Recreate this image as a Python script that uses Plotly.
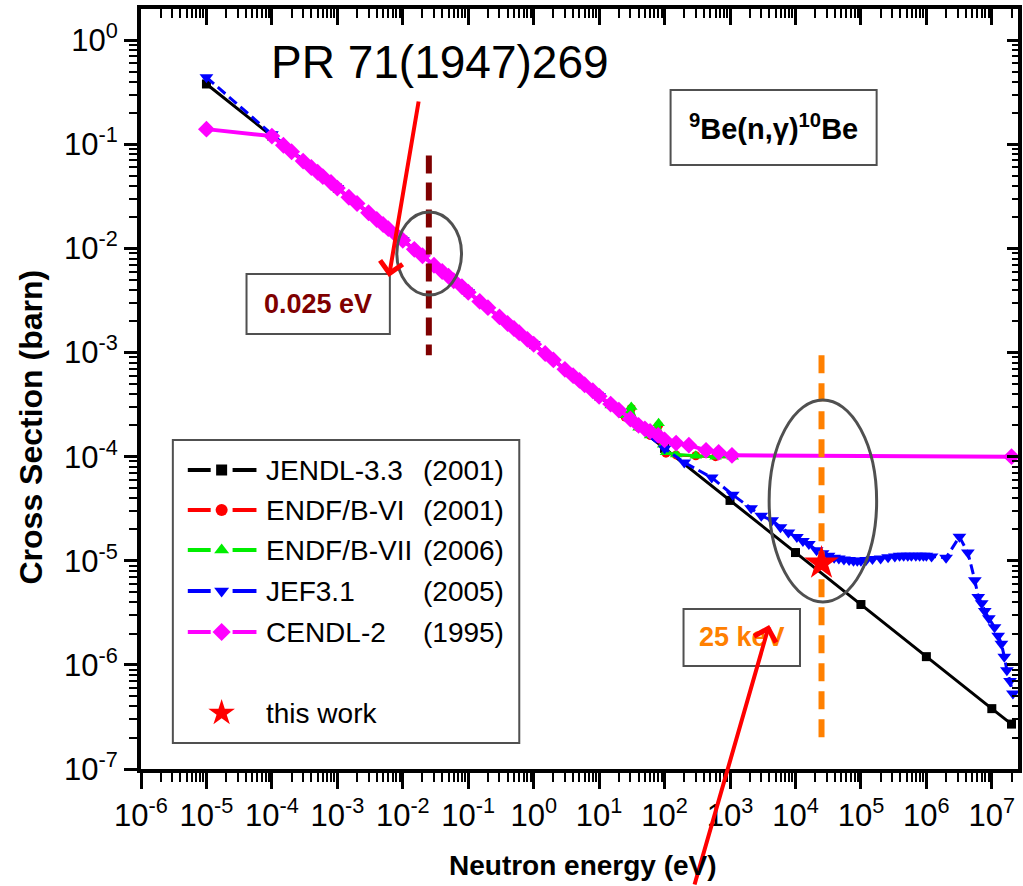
import plotly.graph_objects as go

# ---------------- data ----------------
jendl_E = [1e-5, 1e-4, 1e-3, 1e-2, 1e-1, 1, 10, 100, 1e3, 1e4, 1e5, 1e6, 1e7, 2e7]
jendl_xs = [0.38, 0.12, 0.038, 0.012, 3.8e-3, 1.2e-3, 3.8e-4, 1.2e-4, 3.8e-5, 1.2e-5,
            3.8e-6, 1.2e-6, 3.8e-7, 2.7e-7]

endf6_E = [1e-4, 1e-3, 1e-2, 0.1, 1, 5, 9, 15, 25, 31, 40, 60, 81, 95, 105, 150, 300, 600, 1100]
endf6_xs = [0.12, 0.038, 0.012, 3.8e-3, 1.2e-3, 5.4e-4, 4.0e-4, 3.1e-4, 2.4e-4, 2.9e-4,
            1.9e-4, 1.6e-4, 2.0e-4, 1.3e-4, 1.08e-4, 1.04e-4, 1.02e-4, 1.0e-4, 1.0e-4]

endf7_E = [1e-4, 1e-3, 1e-2, 0.1, 1, 5, 9, 15, 25, 31, 40, 60, 81, 95, 105, 150, 300, 600, 1100]
endf7_xs = [0.12, 0.038, 0.012, 3.8e-3, 1.2e-3, 5.4e-4, 4.1e-4, 3.1e-4, 2.5e-4, 3.0e-4,
            1.9e-4, 1.6e-4, 2.1e-4, 1.3e-4, 1.1e-4, 1.05e-4, 1.02e-4, 1.0e-4, 1.0e-4]

jef_E = [1e-5, 1e-4, 1e-3, 1e-2, 0.1, 1, 10, 100, 200, 525,
         1100, 2100, 3000, 4400, 5900, 7800, 1.05e4, 1.3e4, 1.6e4, 2.1e4,
         2.6e4, 3.2e4, 3.9e4, 4.6e4, 5.5e4, 6.6e4, 7.7e4, 8.8e4, 1.0e5, 1.2e5,
         1.5e5, 2.0e5, 2.6e5, 3.3e5, 3.9e5, 4.5e5, 5.2e5, 5.9e5, 6.9e5, 7.9e5,
         9.0e5, 1.0e6, 1.2e6, 2.0e6, 3.2e6, 4.3e6, 5.5e6, 6.2e6, 7.0e6, 7.8e6,
         9.0e6, 1.1e7, 1.25e7, 1.4e7, 1.55e7, 1.7e7, 1.9e7, 2.1e7]
jef_xs = [0.44, 0.125, 0.038, 0.012, 3.8e-3, 1.2e-3, 3.8e-4, 1.2e-4, 8.8e-5, 6.3e-5,
          4.3e-5, 3.2e-5, 2.7e-5, 2.45e-5, 2.1e-5, 1.87e-5, 1.69e-5, 1.55e-5, 1.45e-5, 1.26e-5,
          1.18e-5, 1.12e-5, 1.07e-5, 1.05e-5, 1.03e-5, 1.02e-5, 1.0e-5, 1.0e-5, 1.0e-5, 1.02e-5,
          1.04e-5, 1.05e-5, 1.08e-5, 1.1e-5, 1.12e-5, 1.12e-5, 1.12e-5, 1.12e-5, 1.12e-5, 1.12e-5,
          1.12e-5, 1.12e-5, 1.1e-5, 1.07e-5, 1.7e-5, 1.2e-5, 6.5e-6, 4.5e-6, 3.9e-6, 3.3e-6,
          2.8e-6, 2.3e-6, 1.9e-6, 1.6e-6, 1.2e-6, 8.9e-7, 7.0e-7, 5.3e-7]

cendl_E = [1e-5,
           1e-4, 1.5e-4, 2e-4, 3e-4, 4e-4, 5e-4, 6e-4, 8e-4,
           1e-3, 1.5e-3, 2e-3, 3e-3, 4e-3, 5e-3, 6e-3, 8e-3,
           1e-2, 1.5e-2, 2e-2, 3e-2, 4e-2, 5e-2, 6e-2, 8e-2,
           0.1, 0.15, 0.2, 0.3, 0.4, 0.5, 0.6, 0.8,
           1, 1.5, 2, 3, 4, 5, 6, 8,
           10, 15, 20, 30, 40, 50, 60, 80,
           100, 150, 235, 430, 670, 1070, 2e7]
cendl_xs = [0.14,
            0.120, 0.098, 0.085, 0.069, 0.060, 0.054, 0.049, 0.043,
            0.038, 0.031, 0.027, 0.022, 0.019, 0.017, 0.0155, 0.0134,
            0.012, 0.0098, 0.0085, 0.0069, 0.0060, 0.0054, 0.0049, 0.0043,
            0.0038, 0.0031, 0.0027, 0.0022, 0.0019, 0.0017, 0.00155, 0.00134,
            1.2e-3, 9.8e-4, 8.5e-4, 6.9e-4, 6.0e-4, 5.4e-4, 4.9e-4, 4.3e-4,
            3.8e-4, 3.2e-4, 2.8e-4, 2.3e-4, 2.0e-4, 1.85e-4, 1.75e-4, 1.6e-4,
            1.45e-4, 1.35e-4, 1.29e-4, 1.15e-4, 1.1e-4, 1.03e-4, 1.0e-4]

star_E = [2.5e4]
star_xs = [9.5e-6]

thermal_E = 0.025
thermal_span = [0.078, 9.4e-4]
kev_E = 2.5e4
kev_span = [9.4e-4, 1.8e-7]

legend_names = ["JENDL-3.3", "ENDF/B-VI", "ENDF/B-VII", "JEF3.1", "CENDL-2"]
legend_years = ["(2001)", "(2001)", "(2006)", "(2005)", "(1995)"]

x_tick_exp = list(range(-6, 8))
y_tick_exp = list(range(-7, 1))

# ---------------- styling ----------------
FONT = "Arial, 'Liberation Sans', sans-serif"
BLACK, RED, GREEN, BLUE, MAG = "#000000", "#ff0000", "#00ee00", "#0000ff", "#ff00ff"
ORANGE, DARKRED, GRAY = "#ff8000", "#7f0000", "#505050"

PL, PR, PT, PB = 141, 1022, 9, 769   # plot-area pixel box

fig = go.Figure()

def series(x, y, color, symbol, size, width, dash="solid"):
    fig.add_trace(go.Scatter(x=x, y=y, mode="lines+markers",
                             line=dict(color=color, width=width, dash=dash),
                             marker=dict(symbol=symbol, size=size, color=color, line=dict(width=0)),
                             showlegend=False, hoverinfo="skip"))

series(jendl_E, jendl_xs, BLACK, "square", 9, 3)
series(endf6_E, endf6_xs, RED, "circle", 9, 3)
series(endf7_E, endf7_xs, GREEN, "triangle-up", 11, 3)
series(jef_E, jef_xs, BLUE, "triangle-down", 12, 3, dash="10px,5px")
series(cendl_E, cendl_xs, MAG, "diamond", 13, 4)

# vertical dashed markers at 0.025 eV and 25 keV
fig.add_trace(go.Scatter(x=[thermal_E, thermal_E], y=thermal_span, mode="lines",
                         line=dict(color=DARKRED, width=6, dash="18px,9px"),
                         showlegend=False, hoverinfo="skip"))
fig.add_trace(go.Scatter(x=[kev_E, kev_E], y=kev_span, mode="lines",
                         line=dict(color=ORANGE, width=6, dash="18px,10px"),
                         showlegend=False, hoverinfo="skip"))
# this work
fig.add_trace(go.Scatter(x=star_E, y=star_xs, mode="markers",
                         marker=dict(symbol="star", size=26, color=RED, line=dict(width=0)),
                         showlegend=False, hoverinfo="skip"))

# invisible trace for the mirrored tick axes
fig.add_trace(go.Scatter(x=[1e-6], y=[1e-7], xaxis="x2", yaxis="y2", mode="markers",
                         marker=dict(opacity=0), showlegend=False, hoverinfo="skip"))

# ---------------- custom legend (pixel overlay axes x3/y3) ----------------
row_y = [470, 510, 550, 591, 632]
leg_cols = [BLACK, RED, GREEN, BLUE, MAG]
leg_sym = ["square", "circle", "triangle-up", "triangle-down", "diamond"]
leg_size = [11, 12, 13, 13, 14]
for yy, c, s, sz in zip(row_y, leg_cols, leg_sym, leg_size):
    fig.add_trace(go.Scatter(x=[188, 211, None, 233, 257], y=[yy, yy, None, yy, yy],
                             xaxis="x3", yaxis="y3", mode="lines",
                             line=dict(color=c, width=4), showlegend=False, hoverinfo="skip"))
    fig.add_trace(go.Scatter(x=[222], y=[yy], xaxis="x3", yaxis="y3", mode="markers",
                             marker=dict(symbol=s, size=sz, color=c, line=dict(width=0)),
                             showlegend=False, hoverinfo="skip"))
fig.add_trace(go.Scatter(x=[222], y=[713], xaxis="x3", yaxis="y3", mode="markers",
                         marker=dict(symbol="star", size=20, color=RED, line=dict(width=0)),
                         showlegend=False, hoverinfo="skip"))

ann = []
for yy, n, yr in zip(row_y, legend_names, legend_years):
    ann.append(dict(x=265, y=yy, xref="x3", yref="y3", text=n, showarrow=False,
                    xanchor="left", yanchor="middle", font=dict(size=28, color="black", family=FONT)))
    ann.append(dict(x=508, y=yy, xref="x3", yref="y3", text=yr, showarrow=False,
                    xanchor="right", yanchor="middle", font=dict(size=28, color="black", family=FONT)))
ann.append(dict(x=265, y=713, xref="x3", yref="y3", text="this work", showarrow=False,
                xanchor="left", yanchor="middle", font=dict(size=28, color="black", family=FONT)))

# text boxes
ann.append(dict(x=319, y=304, xref="x3", yref="y3", text="<b>0.025 eV</b>", showarrow=False,
                xanchor="center", yanchor="middle",
                font=dict(size=27, color=DARKRED, family=FONT)))
ann.append(dict(x=745, y=637, xref="x3", yref="y3", text="<b>25 keV</b>", showarrow=False,
                xanchor="center", yanchor="middle",
                font=dict(size=27, color=ORANGE, family=FONT)))
ann.append(dict(x=776, y=127, xref="x3", yref="y3",
                text="<b><sup>9</sup>Be(n,γ)<sup>10</sup>Be</b>", showarrow=False,
                xanchor="center", yanchor="middle",
                font=dict(size=29, color="black", family=FONT)))
ann.append(dict(x=441, y=62, xref="x3", yref="y3", text="PR 71(1947)269", showarrow=False,
                xanchor="center", yanchor="middle",
                font=dict(size=46, color="black", family=FONT)))

# red arrows
ann.append(dict(x=390, y=277, xref="x3", yref="y3", text="", showarrow=True,
                ax=30, ay=-177, axref="pixel", ayref="pixel",
                arrowhead=4, arrowsize=1.1, arrowwidth=4, arrowcolor=RED))
ann.append(dict(x=772, y=625, xref="x3", yref="y3", text="", showarrow=True,
                ax=-75, ay=270, axref="pixel", ayref="pixel",
                arrowhead=4, arrowsize=1.1, arrowwidth=4, arrowcolor=RED))

# axis titles
W, H = PR - PL, PB - PT
ann.append(dict(x=(585 - PL) / W, y=(PB - 865) / H, xref="paper", yref="paper",
                xanchor="center", yanchor="middle",
                text="<b>Neutron energy (eV)</b>", showarrow=False,
                font=dict(size=28, color="black", family=FONT)))
ann.append(dict(x=(30 - PL) / W, y=(PB - 427) / H, xref="paper", yref="paper",
                xanchor="center", yanchor="middle",
                text="<b>Cross Section (barn)</b>", showarrow=False, textangle=-90,
                font=dict(size=32, color="black", family=FONT)))

shapes = [
    dict(type="rect", xref="x3", yref="y3", x0=173, y0=440, x1=521, y1=743,
         line=dict(color=GRAY, width=2), fillcolor="rgba(0,0,0,0)", layer="above"),
    dict(type="rect", xref="x3", yref="y3", x0=247, y0=274, x1=391, y1=334,
         line=dict(color=GRAY, width=2), fillcolor="rgba(0,0,0,0)", layer="above"),
    dict(type="rect", xref="x3", yref="y3", x0=686, y0=609, x1=803, y1=666,
         line=dict(color=GRAY, width=2), fillcolor="rgba(0,0,0,0)", layer="above"),
    dict(type="rect", xref="x3", yref="y3", x0=673, y0=90, x1=880, y1=165,
         line=dict(color=GRAY, width=2), fillcolor="rgba(0,0,0,0)", layer="above"),
    dict(type="circle", xref="x3", yref="y3", x0=398, y0=212, x1=463, y1=295,
         line=dict(color=GRAY, width=3), layer="above"),
    dict(type="circle", xref="x3", yref="y3", x0=772, y0=400, x1=880, y1=602,
         line=dict(color=GRAY, width=3), layer="above"),
]

xmaj = [10.0 ** k for k in x_tick_exp]
xtxt = ["10<sup>%d</sup>" % k for k in x_tick_exp]
xmin = [m * 10.0 ** k for k in x_tick_exp for m in range(2, 10)]
ymaj = [10.0 ** k for k in y_tick_exp]
ytxt = ["10<sup>%d</sup>" % k for k in y_tick_exp]
ymin = [m * 10.0 ** k for k in y_tick_exp for m in range(2, 10)]

XR = [-6, 7.40]
YR = [-7, 0.30]
tickfont = dict(size=31, color="black", family=FONT)

fig.update_layout(
    width=1023, height=886,
    margin=dict(l=PL, r=1023 - PR, t=PT, b=886 - PB),
    paper_bgcolor="white", plot_bgcolor="white",
    showlegend=False,
    font=dict(family=FONT, color="black"),
    xaxis=dict(type="log", range=XR, tickmode="array", tickvals=xmaj, ticktext=xtxt,
               ticks="outside", ticklen=16, tickwidth=3, tickcolor="black",
               showline=True, linewidth=4, linecolor="black", mirror=True,
               showgrid=False, zeroline=False, tickfont=tickfont,
               minor=dict(tickmode="array", tickvals=xmin, ticks="outside", ticklen=9,
                          tickwidth=2, tickcolor="black", showgrid=False)),
    yaxis=dict(type="log", range=YR, tickmode="array", tickvals=ymaj, ticktext=ytxt,
               ticks="outside", ticklen=13, tickwidth=3, tickcolor="black",
               showline=True, linewidth=4, linecolor="black", mirror=True,
               showgrid=False, zeroline=False, tickfont=tickfont,
               minor=dict(tickmode="array", tickvals=ymin, ticks="outside", ticklen=8,
                          tickwidth=2, tickcolor="black", showgrid=False)),
    xaxis2=dict(type="log", range=XR, overlaying="x", side="top", anchor="y",
                tickmode="array", tickvals=xmaj, showticklabels=False,
                ticks="inside", ticklen=16, tickwidth=3, tickcolor="black",
                showline=False, showgrid=False, zeroline=False,
                minor=dict(tickmode="array", tickvals=xmin, ticks="inside", ticklen=9,
                           tickwidth=2, tickcolor="black", showgrid=False)),
    yaxis2=dict(type="log", range=YR, overlaying="y", side="right", anchor="x",
                tickmode="array", tickvals=ymaj, showticklabels=False,
                ticks="inside", ticklen=11, tickwidth=3, tickcolor="black",
                showline=False, showgrid=False, zeroline=False,
                minor=dict(tickmode="array", tickvals=ymin, ticks="inside", ticklen=6,
                           tickwidth=2, tickcolor="black", showgrid=False)),
    xaxis3=dict(range=[PL, PR], overlaying="x", anchor="y3", visible=False, fixedrange=True),
    yaxis3=dict(range=[PB, PT], overlaying="y", anchor="x3", visible=False, fixedrange=True),
    annotations=ann,
    shapes=shapes,
)

fig.write_html("out.html")
